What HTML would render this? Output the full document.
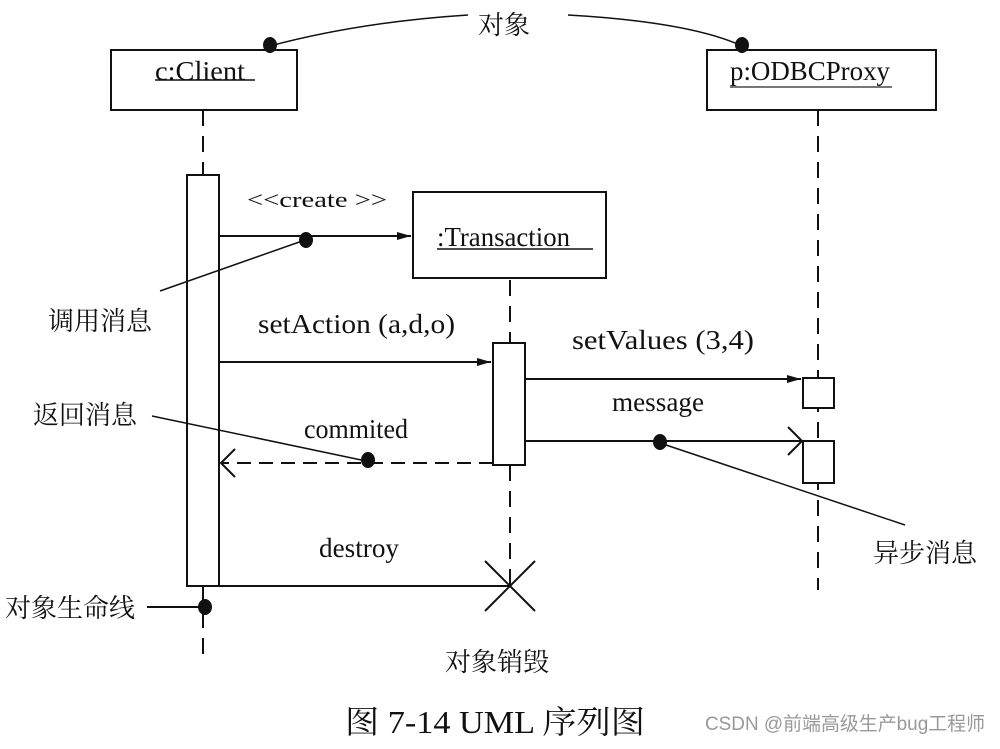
<!DOCTYPE html>
<html><head><meta charset="utf-8"><style>
body{margin:0;background:#fff}
svg text{font-family:"Liberation Serif","Noto Serif CJK SC",serif;fill:#111}
</style></head><body>
<svg width="1000" height="744" viewBox="0 0 1000 744" xmlns="http://www.w3.org/2000/svg">
<defs>
<marker id="f" markerWidth="14" markerHeight="10" refX="14" refY="5" orient="auto" markerUnits="userSpaceOnUse"><path d="M0,1 L14,5 L0,9 z" fill="#111"/></marker>
</defs>
<g stroke="#111" stroke-width="2" fill="none">
<rect x="111" y="50" width="186" height="60"/>
<rect x="707" y="50" width="229" height="60"/>
<rect x="413" y="192" width="193" height="86"/>
<line x1="203" y1="110" x2="203" y2="175" stroke-dasharray="16,10"/>
<line x1="203" y1="586" x2="203" y2="662" stroke-dasharray="16,10"/>
<line x1="510" y1="280" x2="510" y2="343" stroke-dasharray="16,10"/>
<line x1="510" y1="465" x2="510" y2="590" stroke-dasharray="16,10"/>
<line x1="818" y1="110" x2="818" y2="590" stroke-dasharray="16,10"/>
<rect x="187" y="175" width="32" height="411" fill="#fff"/>
<rect x="493" y="343" width="32" height="122" fill="#fff"/>
<rect x="803" y="378" width="31" height="30" fill="#fff"/>
<rect x="803" y="441" width="31" height="42" fill="#fff"/>
<line x1="219" y1="236" x2="411" y2="236" marker-end="url(#f)"/>
<line x1="219" y1="362" x2="491" y2="362" marker-end="url(#f)"/>
<line x1="525" y1="379" x2="801" y2="379" marker-end="url(#f)"/>
<line x1="525" y1="441" x2="802" y2="441"/>
<polyline points="788,427 802,441 788,455"/>
<line x1="493" y1="463" x2="221" y2="463" stroke-dasharray="14,8"/>
<polyline points="235,449 221,463 235,477"/>
<line x1="219" y1="586" x2="510" y2="586"/>
<line x1="485" y1="561" x2="535" y2="611"/>
<line x1="535" y1="561" x2="485" y2="611"/>
<line x1="160" y1="291" x2="305" y2="240" stroke-width="1.5"/>
<line x1="152" y1="416" x2="366" y2="461" stroke-width="1.5"/>
<line x1="660" y1="443" x2="905" y2="525" stroke-width="1.5"/>
<line x1="147" y1="607" x2="203" y2="607"/>
<path d="M468,15 Q360,22 270,46" stroke-width="1.5"/>
<path d="M568,15 Q690,22 742,46" stroke-width="1.5"/>
<line x1="155" y1="80" x2="255" y2="80" stroke-width="1.5"/>
<line x1="730" y1="87" x2="892" y2="87" stroke-width="2" stroke="#777"/>
<line x1="437" y1="249" x2="593" y2="249" stroke-width="1.5"/>
</g>
<g fill="#111">
<ellipse cx="270" cy="45" rx="7" ry="8"/>
<ellipse cx="742" cy="45" rx="7" ry="8"/>
<ellipse cx="306" cy="240" rx="7" ry="8"/>
<ellipse cx="368" cy="460" rx="7" ry="8"/>
<ellipse cx="660" cy="442" rx="7" ry="8"/>
<ellipse cx="205" cy="607" rx="7" ry="8"/>
</g>
<g font-size="27">
<text x="155" y="80" textLength="90" lengthAdjust="spacingAndGlyphs">c:Client</text>
<text x="730" y="80" textLength="160" lengthAdjust="spacingAndGlyphs">p:ODBCProxy</text>
<text x="437" y="246" textLength="133" lengthAdjust="spacingAndGlyphs">:Transaction</text>
<text x="478" y="34" font-size="26">对象</text>
<text x="247" y="207" font-size="22" textLength="140" lengthAdjust="spacingAndGlyphs">&lt;&lt;create &gt;&gt;</text>
<text x="48" y="330" font-size="26">调用消息</text>
<text x="258" y="333" textLength="197" lengthAdjust="spacingAndGlyphs">setAction  (a,d,o)</text>
<text x="572" y="349" textLength="182" lengthAdjust="spacingAndGlyphs">setValues  (3,4)</text>
<text x="612" y="411" textLength="92" lengthAdjust="spacingAndGlyphs">message</text>
<text x="304" y="438" textLength="104" lengthAdjust="spacingAndGlyphs">commited</text>
<text x="33" y="424" font-size="26">返回消息</text>
<text x="873" y="562" font-size="26">异步消息</text>
<text x="319" y="557" textLength="80" lengthAdjust="spacingAndGlyphs">destroy</text>
<text x="5" y="617" font-size="26">对象生命线</text>
<text x="445" y="671" font-size="26">对象销毁</text>
<text x="345" y="733" font-size="32" textLength="300" lengthAdjust="spacingAndGlyphs">图 7-14   UML 序列图</text>
<text x="705" y="730" font-size="19" textLength="280" lengthAdjust="spacingAndGlyphs" style="font-family:'Liberation Sans','Noto Sans CJK SC',sans-serif;fill:#999">CSDN @前端高级生产bug工程师</text>
</g>
</svg>
</body></html>
